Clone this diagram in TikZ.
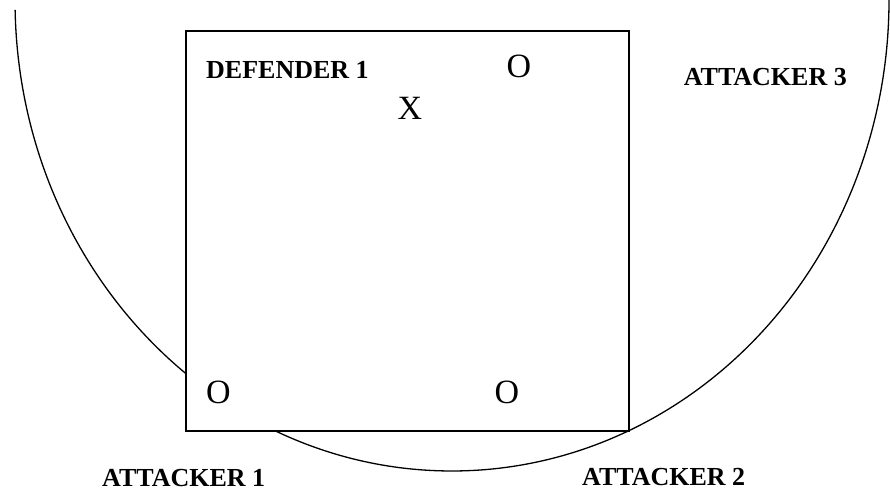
\documentclass[tikz,border=0pt]{standalone}
\usepackage{fontspec}
\setmainfont{Liberation Serif}
\begin{document}
\begin{tikzpicture}[x=1pt,y=1pt,
  lbl/.style={font=\fontsize{26}{30}\selectfont\bfseries, inner sep=0pt},
  playerglyph/.style={font=\fontsize{34}{38}\selectfont, inner sep=0pt},
  boxline/.style={draw=black, fill=white, line width=2pt},
  arcline/.style={draw=black, line width=1.3pt}]
\useasboundingbox (0,0) rectangle (890,493);
\begin{scope}
\clip (0,0) rectangle (890,493);
\draw[arcline] (452,493) ++(181.2:437 and 471) arc[start angle=181.2, end angle=362, x radius=437, y radius=471];
\end{scope}
\node[boxline, minimum width=443pt, minimum height=400pt, anchor=south west, inner sep=0pt] (sq) at (185,61) {};
\node[lbl, anchor=west] (def) at (206,423) {DEFENDER 1};
\node[playerglyph] (otop) at (519,427) {O};
\node[playerglyph] (x) at (410,385) {X};
\node[lbl, anchor=east] (att3) at (847,416) {ATTACKER 3};
\node[playerglyph] (obl) at (218.5,100.5) {O};
\node[playerglyph] (obr) at (507,100.5) {O};
\node[lbl, anchor=west] (att1) at (102,14.5) {ATTACKER 1};
\node[lbl, anchor=west] (att2) at (582,16) {ATTACKER 2};
\end{tikzpicture}
\end{document}
